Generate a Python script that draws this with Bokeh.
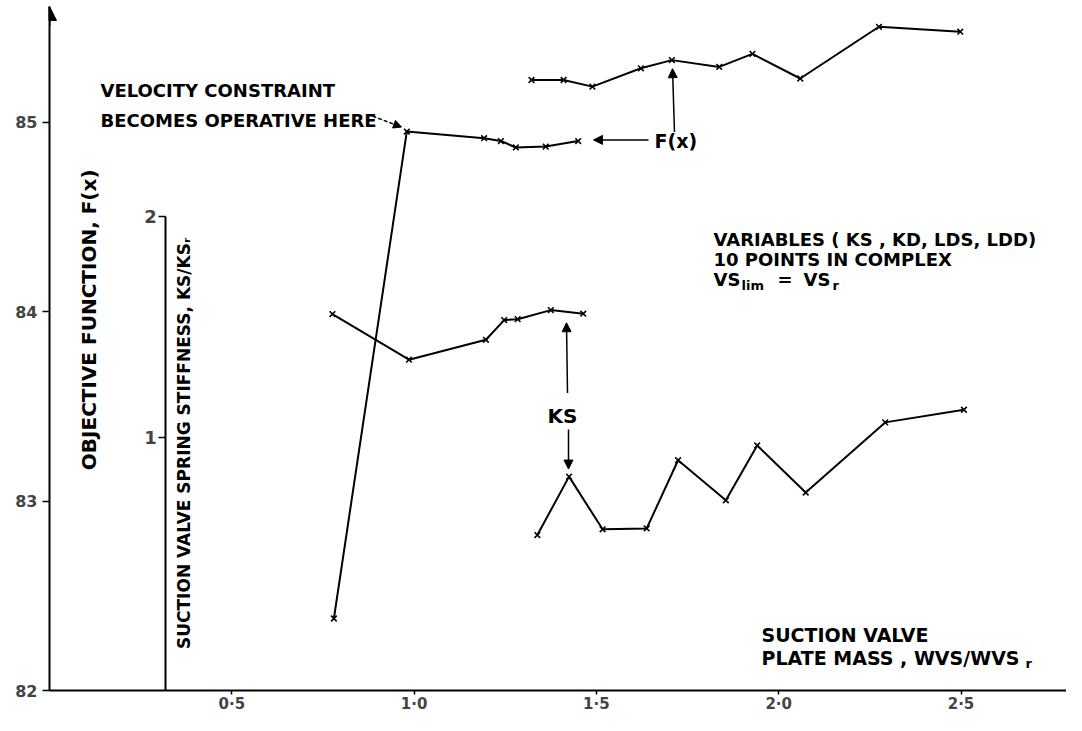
import math
from bokeh.plotting import figure
from bokeh.models import LinearAxis, Range1d, Label, Arrow, NormalHead, FixedTicker
from bokeh.embed import file_html
from bokeh.resources import INLINE

# ---------------- data ----------------
x_ticks = [0.5, 1.0, 1.5, 2.0, 2.5]
x_tick_labels = ["0·5", "1·0", "1·5", "2·0", "2·5"]
f_ticks = [82, 83, 84, 85]
ks_ticks = [1, 2]

# F(x), first run (velocity constraint becomes operative)
x_f1 = [0.78, 0.98, 1.192, 1.238, 1.279, 1.361, 1.450]
f1 = [82.38, 84.95, 84.915, 84.90, 84.866, 84.871, 84.90]
# KS/KSr, first run
x_ks1 = [0.776, 0.986, 1.197, 1.247, 1.284, 1.375, 1.464]
ks1 = [1.557, 1.351, 1.441, 1.530, 1.534, 1.575, 1.559]
# F(x), second run
x_f2 = [1.322, 1.410, 1.489, 1.622, 1.707, 1.837, 1.928, 2.059, 2.275, 2.498]
f2 = [85.222, 85.222, 85.187, 85.284, 85.327, 85.291, 85.360, 85.230, 85.503, 85.477]
# KS/KSr, second run
x_ks2 = [1.338, 1.425, 1.517, 1.638, 1.724, 1.855, 1.941, 2.074, 2.292, 2.508]
ks2 = [0.559, 0.823, 0.585, 0.589, 0.897, 0.716, 0.964, 0.751, 1.068, 1.125]

# ---------------- figure ----------------
W, H = 1066, 715
LEFT, BOTTOM = 49, 17
FRAME_W, FRAME_H = W - LEFT, H - BOTTOM
XSCALE = 364.6                                  # px per x unit
FSCALE = 191.67                                 # px per F unit
KSSCALE = 224.0                                 # px per KS unit
XMIN = 0.0
XMAX = FRAME_W / XSCALE
YMIN = 82.0
YMAX = YMIN + FRAME_H / FSCALE
KSMAX = 2 + 218 / KSSCALE
KSMIN = KSMAX - FRAME_H / KSSCALE

FONT = "DejaVu Sans"

p = figure(width=W, height=H, output_backend="svg", toolbar_location=None,
           x_range=Range1d(XMIN, XMAX), y_range=Range1d(YMIN, YMAX),
           min_border_left=LEFT, min_border_right=0, min_border_top=0,
           min_border_bottom=BOTTOM)
p.grid.visible = False
p.outline_line_color = None
p.background_fill_color = "white"
p.border_fill_color = "white"

# main x axis
xa = p.xaxis[0]
xa.ticker = FixedTicker(ticks=x_ticks)
xa.major_label_overrides = {t: l for t, l in zip(x_ticks, x_tick_labels)}
xa.minor_tick_line_color = None
xa.major_tick_in = 0
xa.major_tick_out = 4
xa.axis_line_width = 2
xa.major_tick_line_width = 1.5
xa.major_label_text_font = FONT
xa.major_label_text_font_style = "bold"
xa.major_label_text_font_size = "15px"
xa.major_label_standoff = 0

# main F axis
tip = YMAX - 6 / FSCALE
ya = p.yaxis[0]
ya.ticker = FixedTicker(ticks=f_ticks)
ya.bounds = (YMIN, tip)
ya.minor_tick_line_color = None
ya.major_tick_in = 0
ya.major_tick_out = 7
ya.axis_line_width = 2
ya.major_tick_line_width = 1.5
ya.major_label_text_font = FONT
ya.major_label_text_font_style = "bold"
ya.major_label_text_font_size = "16px"
ya.major_label_standoff = 5

# secondary KS axis placed inside the frame
p.extra_y_ranges = {"ks": Range1d(KSMIN, KSMAX)}
ks_axis = LinearAxis(y_range_name="ks", ticker=FixedTicker(ticks=ks_ticks),
                     fixed_location=0.319, bounds=(KSMIN, 2.0))
ks_axis.minor_tick_line_color = None
ks_axis.major_tick_in = 0
ks_axis.major_tick_out = 7
ks_axis.axis_line_width = 2
ks_axis.major_tick_line_width = 1.5
ks_axis.major_label_text_font = FONT
ks_axis.major_label_text_font_style = "bold"
ks_axis.major_label_text_font_size = "18px"
ks_axis.major_label_standoff = 2
p.add_layout(ks_axis, "left")

# arrow at top of main F axis
p.add_layout(Arrow(end=NormalHead(size=14, fill_color="black", line_color="black"),
                   x_start=0, y_start=tip - 0.1, x_end=0, y_end=tip,
                   line_width=2, line_color="black"))

# ---------------- series ----------------
for xs, ys, rng in [(x_f1, f1, "default"), (x_f2, f2, "default"),
                    (x_ks1, ks1, "ks"), (x_ks2, ks2, "ks")]:
    p.line(xs, ys, line_color="black", line_width=2, y_range_name=rng)
    p.scatter(xs, ys, marker="x", size=8, line_color="black", line_width=1.6,
              y_range_name=rng)

# ---------------- annotations ----------------
def X(px):
    return (px - LEFT) / XSCALE

def Y(py):
    return YMIN + (FRAME_H - py) / FSCALE

def txt(s, px, py, size="18px", align="left", angle=0.0):
    p.add_layout(Label(x=X(px), y=Y(py), text=s, text_font=FONT, text_font_style="bold",
                       text_font_size=size, text_align=align, text_baseline="middle",
                       angle=angle, text_color="black"))

def arrow(x0, y0, x1, y1, size=9, dash="solid"):
    p.add_layout(Arrow(end=NormalHead(size=size, fill_color="black", line_color="black"),
                       x_start=X(x0), y_start=Y(y0), x_end=X(x1), y_end=Y(y1),
                       line_width=1.5, line_dash=dash))

txt("VELOCITY  CONSTRAINT", 100, 91)
txt("BECOMES OPERATIVE HERE", 100, 121)
arrow(372, 117, 401, 128, size=8, dash="4 2")

txt("F(x)", 654, 142, size="19px")
arrow(648, 141, 593, 141)
arrow(674, 133, 672, 69)

txt("KS", 547, 420, size="20px")
arrow(567, 397, 566, 326)
arrow(568, 434, 568, 474)

txt("VARIABLES ( KS , KD, LDS, LDD)", 713, 242, size="18px")
txt("10   POINTS   IN   COMPLEX", 713, 262, size="18px")
txt("VS", 713, 282, size="18px")
txt("lim", 741, 288, size="13px")
txt("=", 777, 282, size="18px")
txt("VS", 803, 282, size="18px")
txt("r", 832, 288, size="13px")

txt("SUCTION  VALVE", 761, 642, size="19px")
txt("PLATE  MASS ,  WVS/WVS", 761, 665, size="19px")
txt("r", 1025, 671, size="13px")

txt("OBJECTIVE  FUNCTION,  F(x)", 88, 316, size="20px", align="center", angle=math.pi / 2)
txt("SUCTION  VALVE  SPRING  STIFFNESS,  KS/KSᵣ", 183, 436, size="17px",
    align="center", angle=math.pi / 2)

open("out.html", "w").write(file_html(p, INLINE))
